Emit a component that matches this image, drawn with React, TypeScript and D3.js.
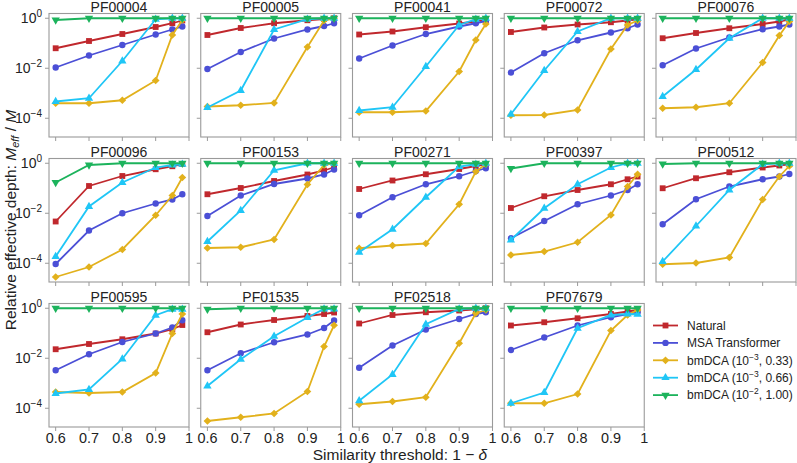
import React, { useRef, useEffect } from "react";
import * as d3 from "d3";

// x positions (similarity threshold)
const thresholds = [0.6, 0.7, 0.8, 0.9, 0.95, 0.98];

const families = [
  "PF00004", "PF00005", "PF00041", "PF00072", "PF00076",
  "PF00096", "PF00153", "PF00271", "PF00397", "PF00512",
  "PF00595", "PF01535", "PF02518", "PF07679",
];

// log10 of M_eff / M, one row per family
const naturalLog = [
  [-1.2, -0.91, -0.63, -0.35, -0.2, -0.09],
  [-0.67, -0.39, -0.2, -0.08, -0.03, 0],
  [-0.65, -0.53, -0.36, -0.21, -0.13, -0.07],
  [-0.55, -0.37, -0.25, -0.16, -0.09, -0.04],
  [-0.8, -0.59, -0.4, -0.23, -0.13, -0.04],
  [-2.33, -0.91, -0.51, -0.24, -0.12, -0.03],
  [-1.24, -0.99, -0.71, -0.45, -0.29, -0.16],
  [-1.03, -0.69, -0.44, -0.23, -0.11, -0.04],
  [-1.79, -1.32, -1.07, -0.84, -0.64, -0.53],
  [-1.0, -0.6, -0.36, -0.17, -0.09, -0.04],
  [-1.64, -1.43, -1.24, -1.01, -0.84, -0.67],
  [-0.96, -0.65, -0.47, -0.31, -0.23, -0.17],
  [-0.61, -0.27, -0.16, -0.09, -0.04, 0],
  [-0.69, -0.56, -0.4, -0.23, -0.13, -0.07],
];

const msaLog = [
  [-1.97, -1.49, -1.07, -0.65, -0.45, -0.33],
  [-2.03, -1.35, -0.81, -0.45, -0.31, -0.2],
  [-1.61, -1.09, -0.63, -0.33, -0.2, -0.11],
  [-2.17, -1.4, -0.88, -0.57, -0.4, -0.25],
  [-1.88, -1.21, -0.77, -0.44, -0.33, -0.25],
  [-4.03, -2.69, -2.0, -1.61, -1.45, -1.24],
  [-2.11, -1.29, -0.83, -0.61, -0.45, -0.25],
  [-2.08, -1.36, -0.84, -0.52, -0.31, -0.2],
  [-3.0, -2.31, -1.64, -1.29, -1.07, -0.84],
  [-2.44, -1.44, -0.93, -0.64, -0.53, -0.43],
  [-2.48, -1.84, -1.35, -1.01, -0.77, -0.48],
  [-2.48, -1.8, -1.36, -1.05, -0.79, -0.49],
  [-2.38, -1.49, -0.85, -0.43, -0.23, -0.16],
  [-1.67, -1.17, -0.69, -0.36, -0.23, -0.17],
];

const bm033Log = [
  [-3.4, -3.4, -3.28, -2.49, -0.67, -0.07],
  [-3.53, -3.48, -3.39, -1.15, -0.09, 0],
  [-3.76, -3.76, -3.71, -2.13, -0.87, -0.23],
  [-3.88, -3.87, -3.67, -1.23, -0.27, -0.09],
  [-3.6, -3.56, -3.4, -1.77, -0.69, -0.13],
  [-4.55, -4.15, -3.45, -2.08, -1.29, -0.57],
  [-3.39, -3.36, -3.05, -0.85, -0.07, 0],
  [-3.4, -3.29, -3.21, -1.64, -0.33, -0.04],
  [-3.67, -3.53, -3.16, -2.07, -0.93, -0.44],
  [-4.04, -3.99, -3.77, -1.45, -0.53, -0.11],
  [-3.35, -3.39, -3.35, -2.59, -1.01, -0.23],
  [-4.51, -4.36, -4.21, -3.33, -1.53, -0.68],
  [-3.84, -3.73, -3.56, -1.4, -0.2, -0.07],
  [-3.8, -3.8, -3.43, -0.89, -0.27, -0.07],
];

const bm066Log = [
  [-3.33, -3.2, -1.71, -0.04, 0, 0],
  [-3.57, -2.89, -0.45, -0.04, 0, 0],
  [-3.69, -3.56, -1.93, -0.27, -0.04, 0],
  [-3.84, -2.09, -0.53, 0, 0, 0],
  [-3.13, -2.05, -0.8, 0, 0, 0],
  [-3.73, -1.73, -0.77, -0.17, -0.07, -0.04],
  [-3.13, -1.89, -0.28, 0, 0, 0],
  [-3.56, -2.64, -1.36, -0.13, -0.04, 0],
  [-3.07, -1.8, -0.84, -0.17, 0, 0],
  [-3.93, -2.51, -1.07, -0.04, 0, 0],
  [-3.41, -3.25, -2.03, -0.28, -0.04, -0.04],
  [-3.11, -2.04, -1.12, -0.37, -0.03, -0.03],
  [-3.7, -2.65, -0.64, -0.03, 0, 0],
  [-3.8, -3.37, -0.8, -0.27, -0.23, -0.24],
];

const bm100Log = [
  [-0.07, 0, 0, 0, 0, 0],
  [0, 0, 0, 0, 0, 0],
  [0, 0, 0, 0, 0, 0],
  [0, 0, 0, 0, 0, 0],
  [0, 0, 0, 0, 0, 0],
  [-0.77, -0.07, 0, 0, 0, 0],
  [0, 0, 0, 0, 0, 0],
  [0, 0, 0, 0, 0, 0],
  [-0.21, 0, 0, 0, 0, 0],
  [-0.03, 0, 0, 0, 0, 0],
  [0, 0, 0, 0, 0, 0],
  [-0.04, 0, 0, 0, 0, 0],
  [0, 0, 0, 0, 0, 0],
  [0, 0, 0, 0, 0, 0],
];

const seriesNames = ["Natural", "MSA Transformer", "bmDCA", "bmDCA", "bmDCA"];
const seriesExtra = [null, null, ["−3", ", 0.33)"], ["−3", ", 0.66)"], ["−2", ", 1.00)"]];
const seriesColors = ["#c0282d", "#4b4fd6", "#e2b11c", "#1fc6f6", "#1cb35c"];
const seriesData = [naturalLog, msaLog, bm033Log, bm066Log, bm100Log];
const seriesShapes = [d3.symbolSquare, d3.symbolCircle, d3.symbolSquare, d3.symbolTriangle, d3.symbolTriangle];
const seriesRotate = [0, 0, 45, 0, 180];
const seriesSize = [34, 32, 30, 30, 30];

const yTicks = [1, 1e-2, 1e-4];
const yTickExp = ["0", "−2", "−4"];
const xTicks = [0.6, 0.7, 0.8, 0.9, 1];

function App() {
  const svgRef = useRef(null);

  useEffect(() => {
    document.body.style.margin = "0";
    const width = 797;
    const height = 463;
    const pw = 140;
    const ph = 123.5;
    const lefts = [49, 200.75, 352.5, 504.25, 656];
    const tops = [13.5, 158.5, 303.5];
    const font = "'Liberation Sans', Arial, sans-serif";
    const spine = "#9a9a9a";
    const txt = "#222";

    const svg = d3.select(svgRef.current)
      .attr("width", width)
      .attr("height", height)
      .style("display", "block")
      .style("font-family", font);
    svg.selectAll("*").remove();

    const x = d3.scaleLinear().domain([0.58, 1.0]).range([0, pw]);
    const y = d3.scaleLog().domain([Math.pow(10, -4.75), Math.pow(10, 0.19)]).range([ph, 0]);

    const line = d3.line<number>()
      .x((d, i) => x(thresholds[i]))
      .y(d => y(Math.pow(10, d)));

    families.forEach((fam, fi) => {
      const row = Math.floor(fi / 5);
      const col = fi % 5;
      const g = svg.append("g").attr("transform", `translate(${lefts[col]},${tops[row]})`);

      // ticks
      g.selectAll(".yt").data(yTicks).enter().append("line")
        .attr("x1", -4).attr("x2", 0)
        .attr("y1", d => y(d)).attr("y2", d => y(d))
        .attr("stroke", spine).attr("stroke-width", 1);
      g.selectAll(".xt").data(xTicks).enter().append("line")
        .attr("x1", d => x(d)).attr("x2", d => x(d))
        .attr("y1", ph).attr("y2", ph + 4)
        .attr("stroke", spine).attr("stroke-width", 1);

      if (col === 0) {
        yTicks.forEach((t, i) => {
          const tx = g.append("text")
            .attr("x", -7).attr("y", y(t) + 5)
            .attr("text-anchor", "end")
            .attr("fill", txt)
            .attr("font-size", 14);
          tx.append("tspan").text("10");
          tx.append("tspan").attr("dy", -6).attr("font-size", 10).text(yTickExp[i]);
        });
      }
      if (row === 2) {
        g.selectAll(".xl").data(xTicks).enter().append("text")
          .attr("x", d => x(d)).attr("y", ph + 16)
          .attr("text-anchor", "middle")
          .attr("fill", txt)
          .attr("font-size", 14.4)
          .text(d => (d === 1 ? "1" : d3.format(".1f")(d)));
      }

      // series
      seriesData.forEach((sd, si) => {
        const vals = sd[fi];
        g.append("path")
          .attr("d", line(vals))
          .attr("fill", "none")
          .attr("stroke", seriesColors[si])
          .attr("stroke-width", 1.8);
        g.selectAll(".m" + si).data(vals).enter().append("path")
          .attr("d", d3.symbol().type(seriesShapes[si]).size(seriesSize[si])())
          .attr("transform", (d, i) => `translate(${x(thresholds[i])},${y(Math.pow(10, d))}) rotate(${seriesRotate[si]})`)
          .attr("fill", seriesColors[si]);
      });

      // frame
      g.append("rect")
        .attr("width", pw).attr("height", ph)
        .attr("fill", "none")
        .attr("stroke", spine).attr("stroke-width", 1.1);

      g.append("text")
        .attr("x", pw / 2).attr("y", -2)
        .attr("text-anchor", "middle")
        .attr("fill", txt)
        .attr("font-size", 14)
        .text(fam);
    });

    // legend
    const lg = svg.append("g").attr("transform", "translate(653,325.5)");
    seriesNames.forEach((name, si) => {
      const ly = si * 17.4;
      lg.append("line").attr("x1", 0).attr("x2", 25).attr("y1", ly).attr("y2", ly)
        .attr("stroke", seriesColors[si]).attr("stroke-width", 1.8);
      lg.append("path")
        .attr("d", d3.symbol().type(seriesShapes[si]).size(seriesSize[si])())
        .attr("transform", `translate(12.5,${ly}) rotate(${seriesRotate[si]})`)
        .attr("fill", seriesColors[si]);
      const t = lg.append("text").attr("x", 34).attr("y", ly + 4.3)
        .attr("fill", txt).attr("font-size", 12);
      const ex = seriesExtra[si];
      if (ex) {
        t.append("tspan").text(name + " (10");
        t.append("tspan").attr("dy", -5).attr("font-size", 8.5).text(ex[0]);
        t.append("tspan").attr("dy", 5).text(ex[1]);
      } else {
        t.text(name);
      }
    });

    // axis labels
    const yl = svg.append("text")
      .attr("transform", "translate(16,220) rotate(-90)")
      .attr("text-anchor", "middle")
      .attr("fill", txt)
      .attr("font-size", 15.5);
    yl.append("tspan").text("Relative effective depth:  ");
    yl.append("tspan").attr("font-style", "italic").text("M");
    yl.append("tspan").attr("font-style", "italic").attr("font-size", 11).attr("dy", 3).text("eff");
    yl.append("tspan").attr("dy", -3).text(" / ");
    yl.append("tspan").attr("font-style", "italic").text("M");

    const xl = svg.append("text")
      .attr("x", 400).attr("y", 460)
      .attr("text-anchor", "middle")
      .attr("fill", txt)
      .attr("font-size", 15.5);
    xl.append("tspan").text("Similarity threshold:   1 − ");
    xl.append("tspan").attr("font-style", "italic").text("δ");
  }, []);

  return <svg ref={svgRef}></svg>;
}

export default App;
